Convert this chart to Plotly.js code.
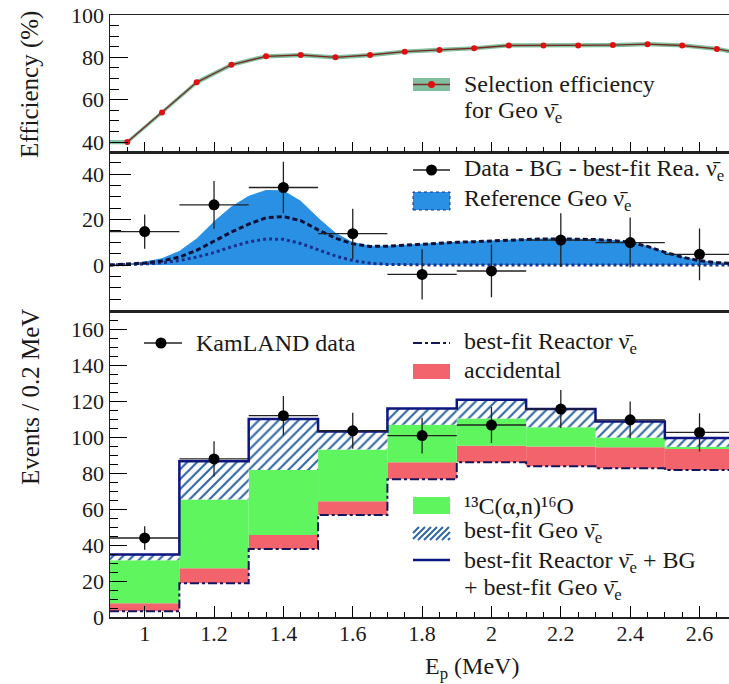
<!DOCTYPE html>
<html><head><meta charset="utf-8">
<script src="https://cdn.plot.ly/plotly-3.0.1.min.js"></script>
<style>html,body{margin:0;padding:0;background:#fff}#chart{width:729px;height:684px}</style>
</head><body><div id="chart"></div>
<script>
// ---------------- data ----------------
// top panel: selection efficiency (%) for geo antineutrinos
const effX   = [0.95,1.05,1.15,1.25,1.35,1.45,1.55,1.65,1.75,1.85,1.95,2.05,2.15,2.25,2.35,2.45,2.55,2.65,2.75];
const effVal = [40.0,54.0,68.2,76.5,80.5,81.1,80.0,81.1,82.7,83.5,84.3,85.6,85.6,85.6,85.8,86.2,85.6,84.0,81.0];
const effErr = [1.0,1.0,1.1,1.0,1.0,1.0,1.0,1.0,1.0,1.0,1.0,1.0,1.0,1.0,1.0,1.0,1.0,1.0,1.0];

// middle panel: reference geo spectrum curves
const geoX = [0.9,0.95,1.0,1.05,1.1,1.15,1.2,1.25,1.3,1.35,1.4,1.45,1.5,1.55,1.6,1.65,1.7,1.75,1.8,1.85,1.9,1.95,2.0,2.05,2.1,2.15,2.2,2.25,2.3,2.35,2.4,2.45,2.5,2.55,2.6,2.65,2.7];
const refGeo    = [0,0.4,1.3,2.8,6.0,11.5,19.0,25.5,30.2,32.8,32.6,28.0,20.6,14.0,9.8,8.3,8.3,8.8,9.3,9.7,10.0,10.3,10.6,11.0,11.3,11.5,11.5,11.4,11.2,10.8,10.0,8.2,5.6,3.5,1.9,1.1,0.6];
const geoDashed = [0,0.3,0.9,1.8,3.5,6.5,10.5,14.5,18.0,20.8,21.3,19.5,15.5,11.8,9.4,8.2,8.3,8.8,9.3,9.7,10.0,10.3,10.6,11.0,11.3,11.5,11.5,11.4,11.2,10.8,10.0,8.2,5.6,3.5,1.9,1.1,0.6];
const geoDotted = [0,0.2,0.5,1.0,2.0,3.5,5.5,8.0,10.2,11.5,11.3,9.5,6.8,4.0,2.0,0.8,0.3,0.1,0,0,0,0,0,0,0,0,0,0,0,0,0,0,0,0,0,0,0];
// middle panel: data - BG - best-fit reactor
const binCenters = [1.0,1.2,1.4,1.6,1.8,2.0,2.2,2.4,2.6];
const binWidth = 0.2;
const subVal = [14.7,26.5,34.1,13.8,-4.1,-2.6,11.0,9.9,4.7];
const subErr = [7.5,10.5,11.3,11.0,11.0,11.6,11.8,11.0,11.4];

// bottom panel: stacked contributions (events / 0.2 MeV)
const reactor    = [3.2,18.8,37.9,56.8,76.7,86.1,83.9,82.8,81.9];
const accidental = [4.5,8.4,7.8,7.6,9.5,9.3,11.1,11.7,11.6];
const c13an      = [23.9,38.2,36.2,28.8,20.9,15.2,10.6,5.5,1.3];
const geoFit     = [3.2,21.3,28.3,10.1,9.0,10.4,10.2,8.9,4.9];
const dataVal    = [44.0,88.0,112.1,103.7,101.0,106.9,115.8,109.8,102.8];
const dataErr    = [6.6,9.8,10.9,10.0,10.0,10.0,10.6,10.2,10.6];

// ---------------- derived ----------------
const xRange = [0.9, 2.685];
const base2 = reactor.map((r,i)=>r+accidental[i]);
const base3 = base2.map((b,i)=>b+c13an[i]);
const total = base3.map((b,i)=>b+geoFit[i]);
const edges = binCenters.map(c=>c-binWidth/2).concat([binCenters[binCenters.length-1]+binWidth/2]);
const stepY = arr => arr.concat([arr[arr.length-1]]);
const bandX = [xRange[0]].concat(effX);
const bandLo = [effVal[0]-effErr[0]].concat(effVal.map((v,i)=>v-effErr[i]));
const bandHi = [effVal[0]+effErr[0]].concat(effVal.map((v,i)=>v+effErr[i]));

const FONT = "'Liberation Serif', 'Times New Roman', serif";
const TXT = '#1a1a1a';
const NAVY = '#0c1580';
const LEG = 24;

const traces = [
  // top
  {x:bandX, y:bandLo, xaxis:'x3', yaxis:'y3', mode:'lines', line:{width:0,color:'#80c0a0'}, showlegend:false, hoverinfo:'skip'},
  {x:bandX, y:bandHi, xaxis:'x3', yaxis:'y3', mode:'lines', fill:'tonexty', fillcolor:'#80c0a0', line:{width:0,color:'#80c0a0'}, showlegend:false, name:'efficiency band'},
  {x:effX, y:effVal, xaxis:'x3', yaxis:'y3', mode:'lines+markers', line:{color:'#7a2a22',width:1.3}, marker:{color:'#e01010',size:6}, showlegend:false, name:'Selection efficiency for Geo'},
  // middle
  {x:geoX, y:refGeo, xaxis:'x2', yaxis:'y2', mode:'lines', fill:'tozeroy', fillcolor:'#2990e4', line:{color:'#2990e4',width:1}, showlegend:false, name:'Reference Geo'},
  {x:geoX, y:geoDotted, xaxis:'x2', yaxis:'y2', mode:'lines', line:{color:'#1b2f8c',width:3,dash:'dot'}, showlegend:false, name:'geo dotted'},
  {x:geoX, y:geoDashed, xaxis:'x2', yaxis:'y2', mode:'lines', line:{color:'#111138',width:3,dash:'5px,3px'}, showlegend:false, name:'geo dashed'},
  {x:binCenters, y:subVal, xaxis:'x2', yaxis:'y2', mode:'markers', marker:{color:'#000',size:11},
   error_x:{type:'constant', value:binWidth/2, width:0, color:'#222', thickness:1.3},
   error_y:{type:'data', array:subErr, width:0, color:'#222', thickness:1.3}, showlegend:false, name:'Data - BG - best-fit Rea.'},
  // bottom
  {type:'bar', x:binCenters, y:accidental, base:reactor, width:binWidth, marker:{color:'#f2636b', line:{width:0}}, showlegend:false, name:'accidental'},
  {type:'bar', x:binCenters, y:c13an, base:base2, width:binWidth, marker:{color:'#5ef55e', line:{width:0}}, showlegend:false, name:'13C(a,n)16O'},
  {type:'bar', x:binCenters, y:geoFit, base:base3, width:binWidth,
   marker:{color:'#ffffff', line:{width:0}, pattern:{shape:'/', fgcolor:'#2f66a3', bgcolor:'#ffffff', size:7, solidity:0.3}}, showlegend:false, name:'best-fit Geo'},
  {x:edges, y:stepY(reactor), mode:'lines', line:{shape:'hv', color:'#15155a', width:2, dash:'dashdot'}, showlegend:false, name:'best-fit Reactor'},
  {x:edges, y:stepY(total), mode:'lines', line:{shape:'hv', color:NAVY, width:2.5}, showlegend:false, name:'total'},
  {x:binCenters, y:dataVal, mode:'markers', marker:{color:'#000',size:11},
   error_x:{type:'constant', value:binWidth/2, width:0, color:'#222', thickness:1.3},
   error_y:{type:'data', array:dataErr, width:0, color:'#222', thickness:1.3}, showlegend:false, name:'KamLAND data'}
];

// pixel helpers for legend / titles (plot area 110..729 x 15..617)
const L=110, T=15, W=619, H=602;
const px = p => (p-L)/W;
const py = p => (T+H-p)/H;

const axisCommon = {showgrid:false, zeroline:false, showline:true, linecolor:'#222', linewidth:1.5,
  tickcolor:'#000', tickwidth:1, tickfont:{family:FONT, size:22, color:TXT}};

const shapes = [];
const ann = [];
function rect(x0,x1,y0,y1,fill,line){shapes.push({type:'rect',xref:'paper',yref:'paper',x0:px(x0),x1:px(x1),y0:py(y1),y1:py(y0),fillcolor:fill,line:line||{width:0}});}
function seg(x0,x1,y0,y1,line){shapes.push({type:'line',xref:'paper',yref:'paper',x0:px(x0),x1:px(x1),y0:py(y0),y1:py(y1),line:line});}
function dot(cx,cy,r,color){shapes.push({type:'circle',xref:'paper',yref:'paper',x0:px(cx-r),x1:px(cx+r),y0:py(cy+r),y1:py(cy-r),fillcolor:color,line:{width:0}});}
function text(t,x,y,size){ann.push({text:t,xref:'paper',yref:'paper',x:px(x),y:py(y),xanchor:'left',yanchor:'middle',showarrow:false,borderpad:0,font:{family:FONT,size:size||LEG,color:TXT}});}
function hatch(x0,x1,ytop,ybot,step,color){
  const h=ybot-ytop; let d='';
  for(let s=x0-h; s<x1; s+=step){
    const t0=Math.max(0,(x0-s)/h), t1=Math.min(1,(x1-s)/h);
    if(t0<t1){ d+='M'+px(s+t0*h)+','+py(ybot-t0*h)+' L'+px(s+t1*h)+','+py(ybot-t1*h)+' '; }
  }
  shapes.push({type:'path',xref:'paper',yref:'paper',path:d,line:{color:color,width:2}});
}
const NU = 'ν\u0304<sub>e</sub>';

// top legend
rect(413,450,78,91,'#80c0a0');
seg(413,450,84.5,84.5,{color:'#7a2a22',width:1.3});
dot(431.5,84.5,3.5,'#e01010');
text('Selection efficiency',463,84);
text('for Geo '+NU,463,112);
// middle legend
seg(413,450,170,170,{color:'#222',width:1.3});
dot(431.5,170,5.5,'#000');
text('Data - BG - best-fit Rea. '+NU,463,170);
rect(413,450,192,210,'#2990e4',{color:'#1b2f8c',width:1,dash:'dot'});
text('Reference Geo '+NU,463,200);
// bottom legend
seg(144,182,343,343,{color:'#222',width:1.3});
dot(161,343,5.5,'#000');
text('KamLAND data',195,343);
seg(413,450,343,343,{color:'#15155a',width:2,dash:'dashdot'});
text('best-fit Reactor '+NU,463,343);
rect(413,450,364,379,'#f2636b');
text('accidental',463,370);
rect(413,450,497,514,'#5ef55e');
text('\u00B9\u00B3C(α,n)\u00B9\u2076O',463,506);
hatch(413,450,527,540,6,'#2f66a3');
text('best-fit Geo '+NU,463,532);
seg(413,450,560,560,{color:NAVY,width:2.5});
text('best-fit Reactor '+NU+' + BG',463,562);
text('+ best-fit Geo '+NU,463,589);

// axis titles
ann.push({text:'Efficiency (%)',xref:'paper',yref:'paper',x:px(30),y:py(85),textangle:-90,showarrow:false,xanchor:'center',yanchor:'middle',font:{family:FONT,size:25,color:TXT}});
ann.push({text:'Events / 0.2 MeV',xref:'paper',yref:'paper',x:px(30),y:py(397),textangle:-90,showarrow:false,xanchor:'center',yanchor:'middle',font:{family:FONT,size:25,color:TXT}});
ann.push({text:'E<sub>p</sub> (MeV)',xref:'paper',yref:'paper',x:px(472),y:py(668),showarrow:false,xanchor:'center',yanchor:'middle',borderpad:0,font:{family:FONT,size:24,color:TXT}});

const layout = {
  width:729, height:684, margin:{l:110,r:0,t:15,b:67}, paper_bgcolor:'#fff', plot_bgcolor:'#fff',
  showlegend:false, barmode:'overlay', font:{family:FONT,color:TXT},
  xaxis:Object.assign({}, axisCommon, {domain:[0,1], range:xRange, anchor:'y', tick0:1, dtick:0.2, ticks:'inside', ticklen:11, mirror:true, ticklabelstandoff:-4,
    minor:{tick0:0.9, dtick:0.05, ticks:'inside', ticklen:5, tickcolor:'#000', tickwidth:1}}),
  xaxis2:Object.assign({}, axisCommon, {matches:'x', anchor:'y2', showticklabels:false, ticks:'', mirror:true}),
  xaxis3:Object.assign({}, axisCommon, {matches:'x', anchor:'y3', showticklabels:false, tick0:1, dtick:0.2, ticks:'inside', ticklen:10, mirror:true,
    minor:{tick0:0.9, dtick:0.05, ticks:'inside', ticklen:5, tickcolor:'#000', tickwidth:1}}),
  yaxis:Object.assign({}, axisCommon, {domain:[0,py(311.7)], range:[0,170], tick0:0, dtick:20, ticks:'inside', ticklen:17,
    minor:{tick0:0, dtick:5, ticks:'inside', ticklen:8, tickcolor:'#000', tickwidth:1}}),
  yaxis2:Object.assign({}, axisCommon, {domain:[py(311.7),py(152)], range:[-20.5,49.7], tickvals:[0,20,40], ticks:'inside', ticklen:21,
    minor:{tickvals:[-15,-10,-5,5,10,15,25,30,35,45], ticks:'inside', ticklen:11, tickcolor:'#000', tickwidth:1}}),
  yaxis3:Object.assign({}, axisCommon, {domain:[py(152),1], range:[35.3,100], tick0:0, dtick:20, ticks:'inside', ticklen:18,
    minor:{tick0:0, dtick:5, ticks:'inside', ticklen:9, tickcolor:'#000', tickwidth:1}}),
  shapes:shapes, annotations:ann
};
Plotly.newPlot('chart', traces, layout, {displayModeBar:false, staticPlot:true});
</script></body></html>
